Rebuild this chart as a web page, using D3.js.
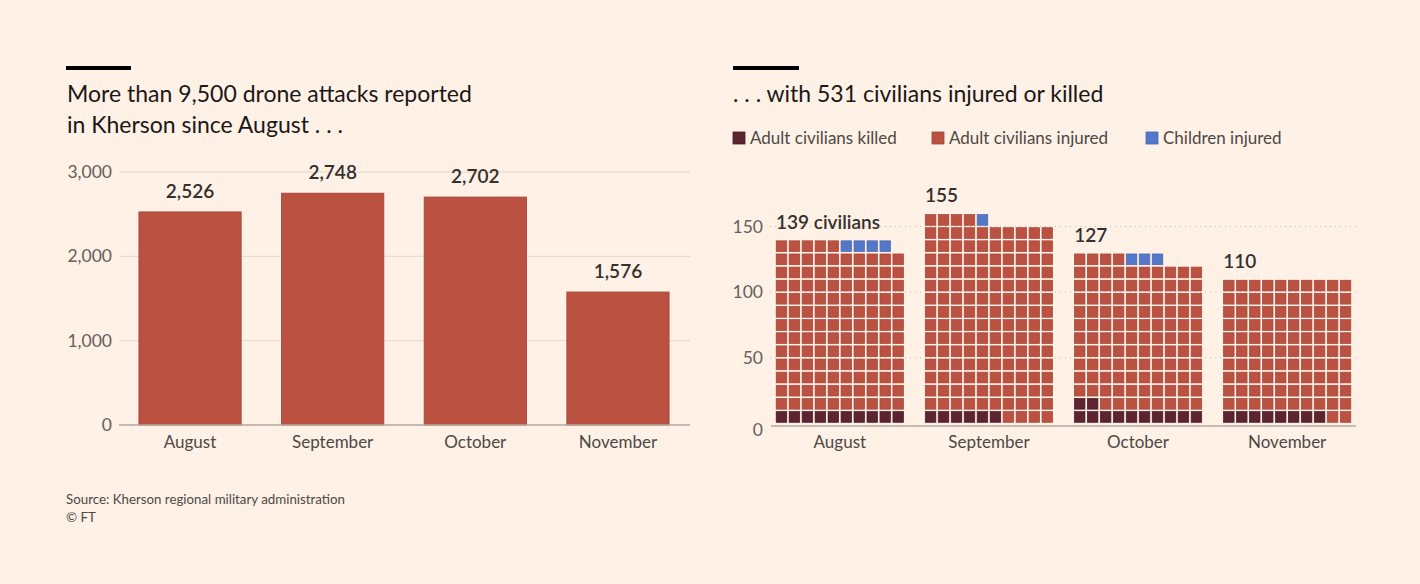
<!DOCTYPE html>
<html>
<head>
<meta charset="utf-8">
<script src="https://cdn.jsdelivr.net/npm/d3@7"></script>
<style>
  html, body { margin: 0; padding: 0; background: #fff1e5; }
  svg { display: block; font-family: Lato, "Open Sans", sans-serif; }
</style>
</head>
<body>
<svg id="chart" width="1420" height="584"></svg>
<script>
// data
var months = ["August", "September", "October", "November"];
var attacks = [2526, 2748, 2702, 1576];
var attackTicks = [0, 1000, 2000, 3000];

var killed = [10, 6, 12, 8];
var injured = [125, 148, 112, 102];
var children = [4, 1, 3, 0];
var civTicks = [0, 50, 100, 150];

var legendLabels = ["Adult civilians killed", "Adult civilians injured", "Children injured"];
var legendColors = ["#5c2331", "#ba5141", "#5577c9"];
var legendStrokes = ["#4a1a26", "#a4443a", "#4767b5"];

var svg = d3.select("#chart");
svg.append("rect").attr("width", 1420).attr("height", 584).attr("fill", "#fff1e5");

function fmt(n) { return d3.format(",")(n); }

// ---------- left panel: drone attacks ----------
var left = svg.append("g");

left.append("rect").attr("x", 66).attr("y", 66).attr("width", 65).attr("height", 4).attr("fill", "#000");
left.append("text").attr("x", 67).attr("y", 102)
    .attr("font-size", 23).attr("fill", "#1a1817")
    .text("More than 9,500 drone attacks reported");
left.append("text").attr("x", 67).attr("y", 133)
    .attr("font-size", 23).attr("fill", "#1a1817")
    .text("in Kherson since August . . .");

var yA = d3.scaleLinear().domain([0, 3000]).range([425, 172]);
var xA = d3.scaleBand().domain(months).range([120, 688]).paddingInner(0.284).paddingOuter(0.133);

left.selectAll(".grid").data(attackTicks.filter(function(d) { return d > 0; }))
    .enter().append("line")
    .attr("x1", 119).attr("x2", 690)
    .attr("y1", function(d) { return yA(d); })
    .attr("y2", function(d) { return yA(d); })
    .attr("stroke", "#e5d6ca").attr("stroke-width", 1);

left.selectAll(".ylab").data(attackTicks).enter().append("text")
    .attr("x", 112)
    .attr("y", function(d) { return yA(d); })
    .attr("dy", "0.35em")
    .attr("text-anchor", "end")
    .attr("font-size", 17.5).attr("fill", "#66605c")
    .text(function(d) { return fmt(d); });

left.selectAll(".bar").data(attacks).enter().append("rect")
    .attr("x", function(d, i) { return xA(months[i]); })
    .attr("y", function(d) { return yA(d); })
    .attr("width", xA.bandwidth())
    .attr("height", function(d) { return yA(0) - yA(d); })
    .attr("fill", "#ba5141")
    .attr("stroke", "#a9473a").attr("stroke-width", 1);

left.append("line").attr("x1", 119).attr("x2", 690)
    .attr("y1", yA(0)).attr("y2", yA(0))
    .attr("stroke", "#b3a9a1").attr("stroke-width", 1.5);

left.selectAll(".val").data(attacks).enter().append("text")
    .attr("x", function(d, i) { return xA(months[i]) + xA.bandwidth() / 2; })
    .attr("y", function(d) { return yA(d) - 14; })
    .attr("text-anchor", "middle")
    .attr("font-size", 19).attr("font-weight", 600).attr("fill", "#33302e")
    .text(function(d) { return fmt(d); });

left.selectAll(".xlab").data(months).enter().append("text")
    .attr("x", function(d) { return xA(d) + xA.bandwidth() / 2; })
    .attr("y", 448)
    .attr("text-anchor", "middle")
    .attr("font-size", 17).attr("fill", "#4d4845")
    .text(function(d) { return d; });

left.append("text").attr("x", 66).attr("y", 504)
    .attr("font-size", 13.3).attr("fill", "#4d4845")
    .text("Source: Kherson regional military administration");
left.append("text").attr("x", 66).attr("y", 522)
    .attr("font-size", 13.3).attr("fill", "#4d4845")
    .text("\u00a9 FT");

// ---------- right panel: civilian casualties waffle ----------
var right = svg.append("g");

right.append("rect").attr("x", 733).attr("y", 66).attr("width", 66).attr("height", 4).attr("fill", "#000");
right.append("text").attr("x", 733).attr("y", 102)
    .attr("font-size", 23).attr("fill", "#1a1817")
    .text(". . . with 531 civilians injured or killed");

var legendX = [733, 932, 1146];
var legend = right.selectAll(".leg").data(legendLabels).enter().append("g")
    .attr("transform", function(d, i) { return "translate(" + legendX[i] + ",138)"; });
legend.append("rect").attr("x", 0).attr("y", -6).attr("width", 12).attr("height", 12)
    .attr("fill", function(d, i) { return legendColors[i]; })
    .attr("stroke", function(d, i) { return legendStrokes[i]; }).attr("stroke-width", 0.8);
legend.append("text").attr("x", 17).attr("dy", "0.35em")
    .attr("font-size", 17).attr("fill", "#4d4845")
    .text(function(d) { return d; });

var yC = d3.scaleLinear().domain([0, 150]).range([423.5, 226.5]);
var xC = d3.scaleBand().domain(months).range([772, 1355]).paddingInner(0.13).paddingOuter(0.02);
var cols = 10, gap = 2.4;
var colPitch = xC.bandwidth() / cols;

right.selectAll(".cgrid").data(civTicks.filter(function(d) { return d > 0; }))
    .enter().append("line")
    .attr("x1", 770).attr("x2", 1356)
    .attr("y1", function(d) { return yC(d); })
    .attr("y2", function(d) { return yC(d); })
    .attr("stroke", "#c9bdb3").attr("stroke-width", 1)
    .attr("stroke-dasharray", "1,4");

right.selectAll(".cylab").data(civTicks).enter().append("text")
    .attr("x", 763)
    .attr("y", function(d) { return d === 0 ? yC(d) + 6 : yC(d); })
    .attr("dy", "0.35em")
    .attr("text-anchor", "end")
    .attr("font-size", 17.5).attr("fill", "#66605c")
    .text(function(d) { return d; });

// one cell per civilian: killed first, then injured, then children
var cells = [];
months.forEach(function(m, i) {
    var kinds = [];
    for (var k = 0; k < killed[i]; k++) kinds.push(0);
    for (var k = 0; k < injured[i]; k++) kinds.push(1);
    for (var k = 0; k < children[i]; k++) kinds.push(2);
    kinds.forEach(function(kind, n) {
        cells.push({ month: m, kind: kind, col: n % cols, row: Math.floor(n / cols) });
    });
});

right.selectAll(".cell").data(cells).enter().append("rect")
    .attr("x", function(d) { return xC(d.month) + d.col * colPitch + gap / 2; })
    .attr("y", function(d) { return yC((d.row + 1) * 10) + gap / 2; })
    .attr("width", colPitch - gap)
    .attr("height", function(d) { return yC(d.row * 10) - yC((d.row + 1) * 10) - gap; })
    .attr("fill", function(d) { return legendColors[d.kind]; })
    .attr("stroke", function(d) { return legendStrokes[d.kind]; })
    .attr("stroke-width", 0.7);

right.append("line").attr("x1", 771).attr("x2", 1356)
    .attr("y1", yC(0) + 2.5).attr("y2", yC(0) + 2.5)
    .attr("stroke", "#b3a9a1").attr("stroke-width", 1.5);

var totals = months.map(function(m, i) { return killed[i] + injured[i] + children[i]; });
right.selectAll(".cval").data(totals).enter().append("text")
    .attr("x", function(d, i) { return xC(months[i]) + 1; })
    .attr("y", function(d) { return yC(Math.ceil(d / cols) * 10) - 11; })
    .attr("font-size", 19).attr("font-weight", 600).attr("fill", "#33302e")
    .text(function(d, i) { return i === 0 ? d + " civilians" : d; });

right.selectAll(".cxlab").data(months).enter().append("text")
    .attr("x", function(d) { return xC(d) + xC.bandwidth() / 2; })
    .attr("y", 448)
    .attr("text-anchor", "middle")
    .attr("font-size", 17).attr("fill", "#4d4845")
    .text(function(d) { return d; });
</script>
</body>
</html>
